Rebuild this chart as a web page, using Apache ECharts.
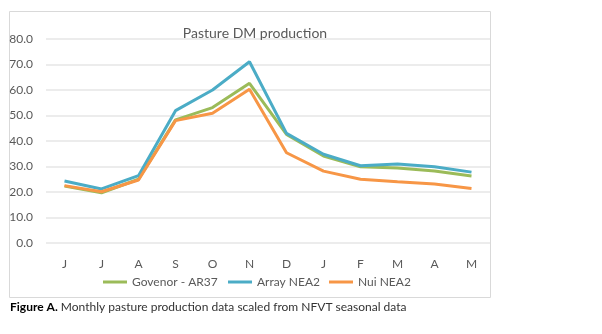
<!DOCTYPE html>
<html><head><meta charset="utf-8">
<script src="https://cdn.jsdelivr.net/npm/echarts@6/dist/echarts.min.js"></script>
<style>html,body{margin:0;padding:0;background:#fff}#c{width:602px;height:334px}</style>
</head><body><div id="c"></div>
<script>
const months = ['J','J','A','S','O','N','D','J','F','M','A','M'];
const govenor = [22.3, 19.7, 25.0, 48.3, 53.1, 62.6, 42.6, 34.1, 29.9, 29.4, 28.2, 26.3];
const arrayNEA2 = [24.3, 21.2, 26.4, 51.9, 60.0, 71.1, 43.0, 34.8, 30.3, 31.0, 29.9, 27.8];
const nuiNEA2 = [22.5, 20.1, 24.7, 48.0, 50.9, 60.3, 35.4, 28.2, 25.0, 24.0, 23.1, 21.4];
const yTicks = [0, 10, 20, 30, 40, 50, 60, 70, 80];
const seriesNames = ['Govenor - AR37', 'Array NEA2', 'Nui NEA2'];

const FONT = 'Lato';
const chart = echarts.init(document.getElementById('c'), null, {renderer: 'canvas'});
function mk(name, data, color) {
  return {name, type: 'line', data, symbol: 'none', smooth: false,
    lineStyle: {color, width: 3}, itemStyle: {color}};
}
function lg(name, left) {
  return {data: [name], left, top: 271, icon: 'rect', itemWidth: 24, itemHeight: 3,
    textStyle: {color: '#595959', fontFamily: FONT, fontSize: 12}};
}
chart.setOption({
  animation: false,
  title: {text: 'Pasture DM production', left: 250, textAlign: 'center', top: 21,
    textStyle: {fontFamily: FONT, fontSize: 14, fontWeight: 'normal', color: '#595959'}},
  grid: {left: 46, right: 112, top: 39, bottom: 91},
  xAxis: {type: 'category', data: months, boundaryGap: true,
    axisLine: {show: false}, axisTick: {show: false},
    axisLabel: {color: '#595959', fontFamily: FONT, fontSize: 12, margin: 15}},
  yAxis: {type: 'value', min: yTicks[0], max: yTicks[yTicks.length-1], interval: 10,
    axisLine: {show: false}, axisTick: {show: false},
    splitLine: {lineStyle: {color: '#E6E6E6', width: 1.5}},
    axisLabel: {color: '#595959', fontFamily: FONT, fontSize: 12, margin: 13,
      formatter: v => v.toFixed(1)}},
  legend: [lg(seriesNames[0], 98), lg(seriesNames[1], 223), lg(seriesNames[2], 324)],
  series: [mk(seriesNames[0], govenor, '#9BBB59'), mk(seriesNames[1], arrayNEA2, '#4BACC6'), mk(seriesNames[2], nuiNEA2, '#F79646')],
  graphic: [
    {type: 'rect', shape: {x: 9.5, y: 11.5, width: 481, height: 286}, silent: true, z: -1,
      style: {fill: 'none', stroke: '#D9D9D9', lineWidth: 1}},
    {type: 'text', left: 10, top: 301, style: {
      text: '{b|Figure A.} Monthly pasture production data scaled from NFVT seasonal data',
      rich: {b: {fontWeight: 'bold', fill: '#000', fontFamily: FONT, fontSize: 12}},
      fill: '#333', fontFamily: FONT, fontSize: 12}}
  ]
});
</script></body></html>
